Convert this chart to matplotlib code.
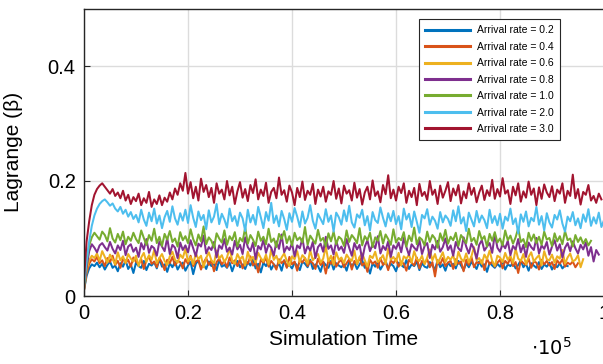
import numpy as np
import matplotlib
matplotlib.use('Agg')
import matplotlib.pyplot as plt
from matplotlib.ticker import FuncFormatter

plt.rcParams['font.family'] = ['Liberation Sans', 'DejaVu Sans']

# Lagrange multiplier traces, one sample every 500 time units (values in 1e-3)
rate_labels = ['Arrival rate = 0.2', 'Arrival rate = 0.4', 'Arrival rate = 0.6',
               'Arrival rate = 0.8', 'Arrival rate = 1.0', 'Arrival rate = 2.0',
               'Arrival rate = 3.0']
step = 500

rate_02 = [10, 35, 48, 55, 52, 58, 50, 56, 46, 54, 60, 49, 53, 43, 57, 51, 62, 47, 55, 40,
           58, 52, 49, 61, 45, 56, 53, 59, 48, 64, 51, 55, 42, 57, 50, 60, 46, 54, 58, 44,
           53, 59, 38, 56, 62, 50, 55, 47, 60, 52, 57, 45, 63, 51, 54, 49, 58, 43, 56, 61,
           50, 55, 47, 59, 53, 64, 48, 56, 41, 58, 52, 60, 46, 55, 50, 57, 44, 62, 51, 54,
           48, 58, 53, 45, 60, 56, 50, 63, 47, 55, 52, 42, 59, 54, 49, 61, 46, 57, 53, 50,
           56, 44, 60, 52, 58, 47, 55, 62, 49, 53, 39, 57, 51, 59, 46, 54, 61, 48, 56, 52,
           43, 58, 54, 50, 63, 47, 55, 52, 60, 45, 57, 51, 49, 59, 53, 46, 62, 50, 55, 44,
           58, 52, 56, 48, 61, 53, 45, 57, 50, 59, 54, 47, 60, 51, 55, 42, 58, 53, 49, 56,
           51, 60, 46, 55, 52, 58, 48, 54, 62, 50, 56, 44, 57, 53, 49, 59, 47, 55, 51, 58,
           46, 54, 50, 57, 48, 53, 52]

rate_04 = [10, 40, 56, 64, 60, 68, 57, 62, 52, 66, 59, 70, 54, 61, 49, 65, 58, 63, 51, 67,
           60, 55, 64, 47, 62, 69, 56, 60, 50, 66, 58, 45, 63, 57, 68, 53, 61, 59, 48, 64,
           56, 70, 52, 60, 63, 46, 58, 66, 54, 62, 43, 59, 65, 55, 61, 50, 67, 57, 62, 52,
           64, 48, 60, 56, 69, 53, 59, 41, 63, 58, 66, 51, 61, 55, 46, 64, 57, 62, 49, 68,
           55, 60, 44, 63, 58, 66, 52, 61, 57, 47, 65, 54, 60, 39, 62, 56, 68, 51, 59, 63,
           50, 57, 64, 46, 61, 55, 67, 53, 58, 42, 63, 56, 60, 49, 66, 54, 59, 45, 62, 57,
           65, 51, 60, 56, 44, 63, 58, 53, 67, 48, 61, 57, 64, 50, 59, 34, 62, 55, 66, 52,
           58, 61, 47, 64, 56, 60, 43, 63, 54, 68, 50, 59, 57, 62, 45, 65, 55, 60, 51, 58,
           63, 48, 61, 56, 66, 52, 59, 40, 62, 57, 54, 65, 49, 60, 58, 46, 63, 55, 61, 53,
           59, 47, 62, 56, 64, 51, 58, 55, 60, 50, 57]

rate_06 = [10, 45, 62, 70, 66, 74, 61, 78, 68, 58, 72, 64, 55, 76, 62, 69, 57, 73, 65, 60,
           70, 52, 67, 75, 59, 71, 63, 80, 57, 66, 73, 61, 54, 69, 77, 63, 58, 72, 66, 82,
           60, 68, 55, 74, 64, 70, 50, 66, 76, 62, 57, 79, 65, 71, 59, 67, 84, 61, 56, 73,
           64, 69, 53, 77, 62, 68, 58, 75, 66, 60, 72, 55, 81, 63, 70, 57, 67, 74, 61, 52,
           69, 64, 78, 59, 71, 66, 56, 80, 62, 68, 73, 58, 65, 86, 60, 70, 54, 76, 63, 67,
           57, 72, 65, 61, 79, 55, 68, 74, 62, 51, 70, 66, 77, 59, 64, 71, 56, 83, 63, 68,
           60, 75, 53, 69, 65, 72, 58, 78, 64, 61, 70, 55, 67, 81, 62, 73, 57, 66, 76, 59,
           68, 63, 71, 54, 77, 65, 60, 74, 58, 69, 85, 62, 66, 56, 72, 64, 79, 61, 52, 70,
           67, 59, 75, 63, 70, 57, 82, 65, 61, 73, 55, 68, 76, 60, 66, 71, 53, 78, 64, 62,
           72, 58, 69, 65, 80, 56, 67, 74, 60, 63, 71, 50, 64]

rate_08 = [12, 50, 78, 90, 84, 76, 88, 92, 85, 79, 94, 82, 74, 88, 80, 96, 71, 86, 90, 77,
           84, 68, 92, 81, 99, 75, 87, 83, 70, 95, 86, 78, 101, 73, 89, 84, 66, 93, 80, 88,
           76, 97, 83, 69, 91, 86, 105, 74, 85, 80, 94, 67, 88, 82, 99, 77, 84, 72, 96, 81,
           89, 73, 102, 85, 78, 93, 64, 87, 81, 98, 75, 90, 84, 70, 95, 82, 107, 76, 86, 80,
           92, 69, 88, 83, 100, 74, 87, 79, 94, 66, 85, 91, 77, 103, 82, 88, 72, 96, 80, 86,
           75, 99, 84, 70, 92, 81, 89, 63, 86, 97, 78, 90, 83, 104, 74, 87, 80, 95, 68, 88,
           82, 93, 76, 101, 85, 71, 90, 84, 79, 98, 73, 87, 92, 66, 89, 81, 96, 77, 85, 100,
           80, 88, 70, 94, 83, 78, 102, 86, 74, 91, 82, 65, 89, 97, 79, 86, 92, 75, 108, 84,
           77, 90, 83, 96, 71, 87, 81, 99, 76, 89, 68, 93, 85, 80, 101, 74, 88, 82, 94, 72,
           86, 97, 79, 90, 67, 84, 92, 78, 95, 83, 74, 89, 81, 93, 70, 85, 60, 80, 72]

rate_10 = [15, 60, 88, 102, 110, 104, 98, 112, 106, 95, 118, 100, 93, 108, 97, 112, 90, 103, 96, 110,
           99, 92, 114, 101, 89, 106, 96, 117, 92, 103, 87, 108, 98, 113, 94, 100, 86, 111, 97, 104,
           92, 116, 99, 88, 107, 95, 121, 90, 102, 96, 84, 109, 100, 93, 114, 89, 104, 97, 111, 86,
           101, 95, 119, 91, 106, 98, 87, 112, 96, 103, 90, 117, 94, 100, 85, 108, 99, 113, 92, 104,
           88, 110, 97, 102, 93, 120, 89, 105, 98, 91, 115, 96, 101, 86, 109, 95, 112, 90, 103, 99,
           87, 114, 94, 106, 100, 92, 118, 88, 104, 97, 110, 85, 102, 96, 113, 91, 107, 99, 89, 116,
           93, 101, 97, 111, 86, 105, 95, 119, 90, 102, 98, 88, 112, 94, 106, 100, 84, 109, 96, 115,
           91, 103, 97, 110, 87, 106, 99, 92, 117, 95, 101, 89, 113, 98, 104, 86, 108, 96, 111, 93,
           100, 88, 114, 97, 105, 91, 102, 118, 94, 99, 85, 110, 96, 107, 92, 103, 89, 112, 98, 101,
           87, 109, 95, 104, 90, 113, 97, 100, 86, 106, 94, 102, 91, 99, 88, 96]

rate_20 = [20, 60, 95, 122, 140, 152, 160, 165, 168, 163, 157, 161, 152, 147, 155, 143, 150, 138, 146, 134,
           141, 128, 150, 133, 122, 145, 130, 152, 126, 140, 118, 137, 148, 129, 156, 135, 124, 144, 131, 150,
           127, 158, 136, 120, 147, 132, 141, 116, 149, 128, 138, 160, 125, 143, 133, 119, 152, 130, 139, 122,
           145, 135, 113, 150, 128, 141, 124, 155, 137, 118, 146, 131, 162, 127, 140, 121, 148, 134, 115, 144,
           129, 153, 138, 120, 147, 126, 136, 158, 131, 117, 143, 134, 125, 151, 129, 140, 112, 145, 137, 124,
           149, 130, 157, 128, 119, 142, 136, 150, 123, 139, 114, 146, 132, 127, 154, 136, 121, 144, 130, 148,
           125, 139, 116, 152, 133, 143, 120, 147, 129, 110, 141, 135, 151, 124, 138, 131, 117, 146, 128, 140,
           134, 122, 149, 130, 156, 126, 137, 113, 145, 133, 121, 148, 128, 140, 132, 118, 150, 127, 139, 123,
           143, 117, 138, 131, 152, 125, 135, 109, 142, 129, 147, 121, 136, 130, 155, 124, 139, 114, 144, 128,
           119, 141, 133, 149, 126, 112, 138, 130, 146, 123, 135, 118, 142, 129, 151, 122, 137, 126, 145, 120,
           132]

rate_30 = [30, 95, 130, 158, 176, 186, 192, 196, 190, 184, 178, 186, 174, 180, 170, 183, 166, 176, 160, 172,
           165, 178, 158, 170, 162, 181, 155, 168, 160, 175, 158, 171, 164, 180, 168, 187, 176, 196, 183, 214,
           178, 198, 170, 190, 166, 204, 181, 193, 172, 188, 162, 196, 178, 185, 168, 200, 175, 190, 160, 182,
           198, 171, 186, 165, 193, 179, 203, 168, 185, 174, 197, 162, 181, 188, 170, 206, 176, 184, 164, 192,
           180, 158, 188, 172, 199, 167, 183, 176, 195, 160, 185, 173, 190, 164, 182, 176, 200, 169, 187, 161,
           192, 178, 184, 166, 197, 171, 186, 159, 180, 190, 168, 201, 174, 182, 163, 193, 177, 210, 170, 185,
           166, 190, 179, 196, 162, 183, 172, 188, 158, 195, 174, 181, 167, 200, 176, 185, 160, 192, 171, 183,
           198, 165, 187, 175, 193, 161, 182, 170, 196, 176, 188, 163, 180, 192, 167, 184, 174, 202, 169, 186,
           173, 205, 178, 184, 160, 190, 175, 196, 164, 182, 171, 199, 176, 187, 158, 189, 169, 194, 180, 172,
           191, 165, 185, 178, 196, 162, 183, 174, 211, 170, 186, 159, 181, 176, 193, 166, 174, 162, 178, 168]

series = [rate_02, rate_04, rate_06, rate_08, rate_10, rate_20, rate_30]
colors = ['#0072BD', '#D95319', '#EDB120', '#7E2F8E', '#77AC30', '#4DBEEE', '#A2142F']

fig = plt.figure(figsize=(6.03, 3.64), dpi=100)
ax = fig.add_axes([84/603, 1 - 296/364, 520/603, 287.5/364])

for vals, lab, c in zip(series, rate_labels, colors):
    t = np.arange(len(vals)) * step
    ax.plot(t, np.array(vals) / 1000, color=c, lw=1.45, label=lab)

ax.set_xlim(0, 1e5)
ax.set_ylim(0, 0.5)
ax.set_xticks([0, 2e4, 4e4, 6e4, 8e4, 1e5])
ax.set_yticks([0, 0.2, 0.4])
ax.xaxis.set_major_formatter(FuncFormatter(lambda v, p: f'{v/1e5:g}'))
ax.yaxis.set_major_formatter(FuncFormatter(lambda v, p: f'{v:g}'))
ax.grid(True, color='#dcdcdc', lw=1.0)
ax.set_axisbelow(True)
ax.tick_params(direction='in', length=4, width=0.8, color='#262626',
               labelsize=14.5, pad=6)
for s in ax.spines.values():
    s.set_color('#262626')
    s.set_linewidth(1.0)

ax.set_xlabel('Simulation Time', fontsize=15)
ax.xaxis.set_label_coords(0.5, -0.118)
ax.set_ylabel('Lagrange (β)', fontsize=15)
ax.yaxis.set_label_coords(-0.117, 0.5)
fig.text(551/603, 1 - 348/364, r'$\cdot10^{5}$', fontsize=14, ha='center', va='center')

leg = ax.legend(loc='upper right', bbox_to_anchor=(560/603, 1 - 19/364),
                bbox_transform=fig.transFigure, fontsize=7.5, frameon=True,
                fancybox=False, framealpha=1, edgecolor='#262626',
                handlelength=4.3, handletextpad=0.7, labelspacing=0.62,
                borderpad=0.6, borderaxespad=0)
leg.get_frame().set_linewidth(0.8)
for h in leg.get_lines():
    h.set_linewidth(2.2)

fig.savefig('out.png', dpi=100)
